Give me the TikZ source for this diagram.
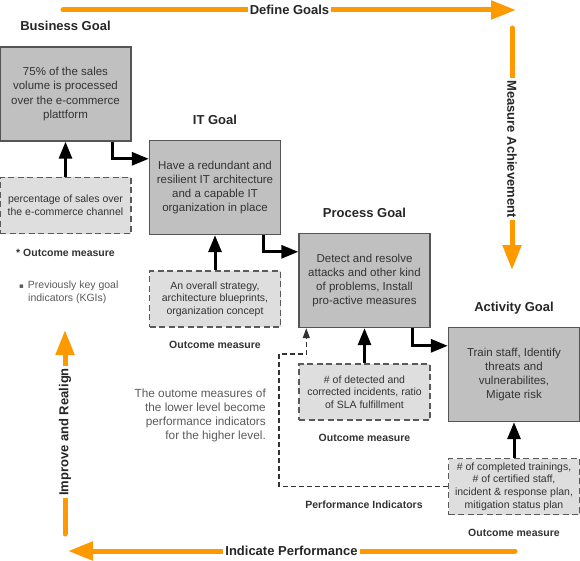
\documentclass[tikz,border=0pt]{standalone}
\usepackage{fontspec}
\setmainfont{Liberation Sans}
\newfontfamily\symfont{DejaVu Sans}
\usepackage{xcolor}
\usepackage{tikz}
\usetikzlibrary{positioning,arrows.meta}
\definecolor{oorange}{RGB}{255,153,0}
\definecolor{gfill}{RGB}{192,192,192}
\definecolor{lfill}{RGB}{222,222,222}
\definecolor{dgray}{RGB}{85,85,85}
\definecolor{tgray}{RGB}{51,51,51}
\definecolor{ngray}{RGB}{90,90,90}
\tikzset{
  goal/.style={rectangle, draw=dgray, line width=1.4pt, fill=gfill, minimum width=131pt, minimum height=94pt, align=center, inner sep=0pt, text=tgray, font=\fontsize{11.5}{14.3}\selectfont},
  meas/.style={rectangle, draw=ngray, dashed, dash pattern=on 6pt off 3.5pt, line width=1.4pt, fill=lfill, minimum width=131pt, minimum height=56pt, align=center, inner sep=0pt, text=tgray, font=\fontsize{10.5}{12.7}\selectfont},
  ttl/.style={font=\fontsize{13}{15}\bfseries, text=black!85, inner sep=2pt, text height=9.5pt, text depth=2.5pt},
  lbl/.style={font=\fontsize{10.5}{12}\bfseries, text=tgray, inner sep=2pt, text height=8pt, text depth=2pt},
  conn/.style={-{Triangle[length=17pt, width=13pt]}, line width=3pt, black},
  perf/.style={-{Triangle[length=10pt, width=7pt]}, dash pattern=on 5pt off 3pt, line width=1.2pt, black!80},
  cyc/.style={-{Triangle[length=25pt, width=18pt]}, line width=5pt, oorange, line cap=round},
  cyclbl/.style={font=\fontsize{13}{15}\bfseries, text=black!85, fill=white, inner sep=2pt}
}
\begin{document}
\begin{tikzpicture}[x=1pt, y=-1pt]
  \useasboundingbox (0,0) rectangle (580,561);
  % goal levels
  \node[goal] (biz) at (65.5,94) {75\% of the sales\\volume is processed\\over the e-commerce\\plattform};
  \node[goal] (it) at (215,187.5) {Have a redundant and\\resilient IT architecture\\and a capable IT\\organization in place};
  \node[goal] (proc) at (364.5,280.5) {Detect and resolve\\attacks and other kind\\of problems, Install\\pro-active measures};
  \node[goal] (act) at (514,374.5) {Train staff, Identify\\threats and\\vulnerabilites,\\Migate risk};
  \node[ttl, above=11pt of biz] {Business Goal};
  \node[ttl, above=11pt of it] {IT Goal};
  \node[ttl, above=11pt of proc] {Process Goal};
  \node[ttl, above=11pt of act] {Activity Goal};
  % outcome measures
  \node[meas] (bizm) at (65.5,205.5) {percentage of sales over\\the e-commerce channel};
  \node[meas] (itm) at (215,299) {An overall strategy,\\architecture blueprints,\\organization concept};
  \node[meas] (procm) at (364.5,392) {\# of detected and\\corrected incidents, ratio\\of SLA fulfillment};
  \node[meas] (actm) at (514,486.5) {\# of completed trainings,\\\# of certified staff,\\incident \& response plan,\\mitigation status plan};
  \node[lbl, below=12pt of bizm] (bizl) {* Outcome measure};
  \node[lbl, below=11pt of itm] {Outcome measure};
  \node[lbl, below=11pt of procm] {Outcome measure};
  \node[lbl, below=11pt of actm] {Outcome measure};
  \node[font=\fontsize{10.5}{12.7}\selectfont, text=ngray, align=left, anchor=north west, inner sep=0pt] (kgi) at (19,281)
    {{\symfont\fontsize{7}{8}\selectfont ▪}\hspace{4pt}Previously key goal\\\hspace{9pt}indicators (KGIs)};
  \node[font=\fontsize{11.8}{14}\selectfont, text=ngray, align=right, anchor=north east, inner sep=0pt] (note) at (266,389)
    {The outome measures of\\the lower level become\\performance indicators\\for the higher level.};
  % connectors
  \draw[conn] ([xshift=-19pt]biz.south east) |- ([yshift=-19pt]it.north west);
  \draw[conn] ([xshift=-18pt]it.south east) |- ([yshift=-19pt]proc.north west);
  \draw[conn] ([xshift=-18pt]proc.south east) |- ([yshift=-19pt]act.north west);
  \draw[conn] (bizm) -- (biz);
  \draw[conn] (itm) -- (it);
  \draw[conn] (procm) -- (proc);
  \draw[conn] (actm) -- (act);
  \coordinate (pbend) at (279,354);
  \draw[perf] (actm.west) -| (pbend) -| ([xshift=8pt]proc.south west);
  \node[lbl] at (364,505) {Performance Indicators};
  % cycle
  \coordinate (c1) at (63,10);
  \coordinate (c2) at (516,10);
  \coordinate (c3) at (512,28);
  \coordinate (c4) at (512,270);
  \coordinate (c5) at (515,551);
  \coordinate (c6) at (68,551);
  \coordinate (c7) at (65,534);
  \coordinate (c8) at (65,330);
  \draw[cyc] (c1) -- (c2) node[cyclbl, midway] {Define Goals};
  \draw[cyc] (c3) -- (c4) node[cyclbl, midway, rotate=-90] {Measure Achievement};
  \draw[cyc] (c5) -- (c6) node[cyclbl, midway] {Indicate Performance};
  \draw[cyc] (c7) -- (c8) node[cyclbl, midway, rotate=90] {Improve and Realign};
\end{tikzpicture}
\end{document}
